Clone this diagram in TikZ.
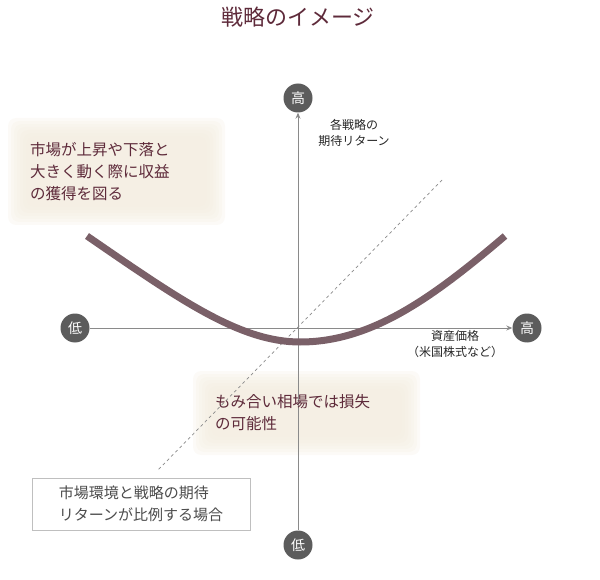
\documentclass[tikz,border=0pt]{standalone}
\usepackage{fontspec}
\setmainfont{Noto Sans CJK JP}
\usetikzlibrary{arrows.meta}
\definecolor{maroon}{HTML}{5E2A3A}
\definecolor{curvec}{HTML}{7A6068}
\definecolor{axisc}{HTML}{8A8A8A}
\definecolor{circc}{HTML}{5C5C5C}
\definecolor{glow}{HTML}{F3EDE0}
\begin{document}
\begin{tikzpicture}[x=1pt,y=-1pt,
  ends/.style={circle,fill=circc,text=white,minimum size=29pt,inner sep=0pt,font=\fontsize{14}{14}\selectfont},
  lbl/.style={font=\fontsize{12}{16}\selectfont,align=center,text=black!85},
  boxtext/.style={font=\fontsize{15.5}{22}\selectfont,align=left,text=maroon,inner sep=6pt},
  glowl/.style={fill=glow,opacity=0.25}]
\useasboundingbox (0,0) rectangle (600,580);
\node[font=\fontsize{22}{22}\selectfont,text=maroon] (title) at (298,17) {戦略のイメージ};
% glow boxes
\foreach \i in {0,3,...,18}{
  \fill[glowl,rounded corners=8pt] (8+\i,118+\i) rectangle (225-\i,225-\i);
  \fill[glowl,rounded corners=8pt] (193+\i,371+\i) rectangle (420-\i,455-\i);
}
\node[ends] (top) at (298,98) {高};
\node[ends] (bot) at (298,545) {低};
\node[ends] (left) at (75,328) {低};
\node[ends] (right) at (527,328) {高};
\draw[axisc,line width=0.8pt,-{Stealth[length=6pt,width=5pt]}] (bot) -- (top);
\draw[axisc,line width=0.8pt,-{Stealth[length=6pt,width=5pt]}] (left) -- (right);
\coordinate (d1) at (442,180);
\coordinate (d2) at (158,470);
\draw[axisc,dashed,line width=0.7pt] (d1) -- (d2);
\coordinate (c1) at (87,236);
\coordinate (cm) at (300,342);
\coordinate (c2) at (505,236);
\draw[curvec,line width=7pt] (c1) .. controls (180,300) and (240,342) .. (cm) .. controls (370,342) and (430,300) .. (c2);
\node[lbl,anchor=north] (yl) at (354,116) {各戦略の\\期待リターン};
\node[lbl,anchor=north] (xl) at (455,327) {資産価格\\（米国株式など）};
\node[boxtext,anchor=north west] (b1) at (24,136) {市場が上昇や下落と\\大きく動く際に収益\\の獲得を図る};
\node[boxtext,anchor=north west] (b2) at (209,388) {もみ合い相場では損失\\の可能性};
\node[draw=black!25,fill=white,font=\fontsize{15}{22}\selectfont,align=left,text=black!70,minimum width=218pt,minimum height=52pt] (b3) at (141,504) {市場環境と戦略の期待\\リターンが比例する場合};
\end{tikzpicture}
\end{document}
